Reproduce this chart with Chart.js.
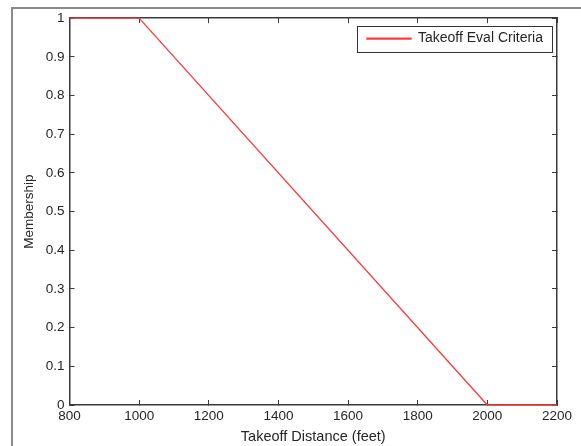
<!DOCTYPE html>
<html><head><meta charset="utf-8">
<script src="https://cdn.jsdelivr.net/npm/chart.js@4"></script>
<style>
html,body{margin:0;padding:0;background:#fff}
#wrap{position:relative;width:581px;height:446px;overflow:hidden}
#frame{position:absolute;left:11px;top:7px;width:600px;height:500px;border-left:2px solid #8a8a8a;border-top:2px solid #8a8a8a;pointer-events:none}
canvas{position:absolute;left:0;top:0}
</style></head>
<body><div id="wrap"><div id="frame"></div><canvas id="c" width="581" height="446"></canvas></div>
<script>
const distance = [800, 1000, 2000, 2200];
const membership = [1, 1, 0, 0];
const seriesName = 'Takeoff Eval Criteria';
const xTickLabels = ['800','1000','1200','1400','1600','1800','2000','2200'];
const yTickLabels = ['0','0.1','0.2','0.3','0.4','0.5','0.6','0.7','0.8','0.9','1'];

const txt = '#262626', axc = '#3a3a3a';
const FONT = 'Liberation Sans, Arial, sans-serif';
const LEG_FONT = 14, LEG_PAD = 10, LEG_BOX = 44;

// Places the library's legend inside the plot's top-right corner and frames it.
const legendBox = {
  id: 'legendBox',
  afterLayout(chart) {
    const lg = chart.legend, ca = chart.chartArea;
    if (!lg) return;
    const ctx = chart.ctx;
    ctx.save();
    ctx.font = LEG_FONT + 'px ' + FONT;
    const tw = ctx.measureText(seriesName).width;
    ctx.restore();
    const W = LEG_PAD + LEG_BOX + LEG_FONT / 2 + tw + 9;
    const H = 26;
    const bx = ca.right - 5 - W, by = ca.top + 8;
    chart.$legendFrame = {bx, by, W, H};
    lg.left = bx; lg.right = bx + W; lg.width = W;
    lg.top = by + H / 2 - LEG_FONT / 2 - LEG_PAD - 0.5;
    lg.bottom = lg.top + 200; lg.height = 200;
  },
  afterDraw(chart) {
    const f = chart.$legendFrame;
    if (!f) return;
    const ctx = chart.ctx;
    ctx.save();
    ctx.strokeStyle = '#333';
    ctx.lineWidth = 1;
    ctx.strokeRect(Math.round(f.bx) + 0.5, Math.round(f.by) + 0.5, Math.round(f.W), f.H);
    ctx.restore();
  }
};

new Chart(document.getElementById('c'), {
  type: 'scatter',
  data: {
    datasets: [{
      label: seriesName,
      data: distance.map((x, i) => ({x, y: membership[i]})),
      showLine: true,
      borderColor: '#ff3a3a',
      backgroundColor: '#ff3a3a',
      borderWidth: 1.3,
      pointRadius: 0,
      clip: false
    }]
  },
  options: {
    responsive: false,
    animation: false,
    layout: {padding: {left: 0, top: 18, right: 24, bottom: 0}},
    plugins: {
      tooltip: {enabled: false},
      legend: {
        position: 'chartArea',
        align: 'start',
        labels: {
          boxWidth: LEG_BOX, boxHeight: 1, padding: LEG_PAD,
          color: txt,
          font: {family: FONT, size: LEG_FONT}
        }
      }
    },
    scales: {
      x: {
        type: 'linear', position: 'bottom', min: 800, max: 2200,
        afterFit: s => { s.height = 41; },
        ticks: {stepSize: 200, color: txt, font: {family: FONT, size: 13.5}, padding: 8,
          maxRotation: 0,
          callback: (v) => xTickLabels[xTickLabels.indexOf(String(v))] ?? ''},
        grid: {drawOnChartArea: false, tickLength: -5, color: axc, lineWidth: 1},
        border: {color: axc, width: 1.5},
        title: {display: true, text: 'Takeoff Distance (feet)', color: txt,
          font: {family: FONT, size: 14.5}, padding: {top: 0, bottom: 0}}
      },
      x2: {
        type: 'linear', position: 'top', min: 800, max: 2200,
        afterFit: s => { s.height = 0; },
        ticks: {stepSize: 200, display: false},
        grid: {drawOnChartArea: false, tickLength: -5, color: axc, lineWidth: 1},
        border: {color: axc, width: 1.5}
      },
      y: {
        type: 'linear', position: 'left', min: 0, max: 1,
        afterFit: s => { s.width = 69.5; },
        ticks: {stepSize: 0.1, color: txt, font: {family: FONT, size: 13.5}, padding: 10,
          callback: (v) => yTickLabels[Math.round(v * 10)]},
        grid: {drawOnChartArea: false, tickLength: -5, color: axc, lineWidth: 1},
        border: {color: axc, width: 1.5},
        title: {display: true, text: 'Membership', color: txt,
          font: {family: FONT, size: 13.5}, padding: {top: 21, bottom: 0}}
      },
      y2: {
        type: 'linear', position: 'right', min: 0, max: 1,
        afterFit: s => { s.width = 0; },
        ticks: {stepSize: 0.1, display: false},
        grid: {drawOnChartArea: false, tickLength: -5, color: axc, lineWidth: 1},
        border: {color: axc, width: 1.5}
      }
    }
  },
  plugins: [legendBox]
});
</script>
</body></html>
